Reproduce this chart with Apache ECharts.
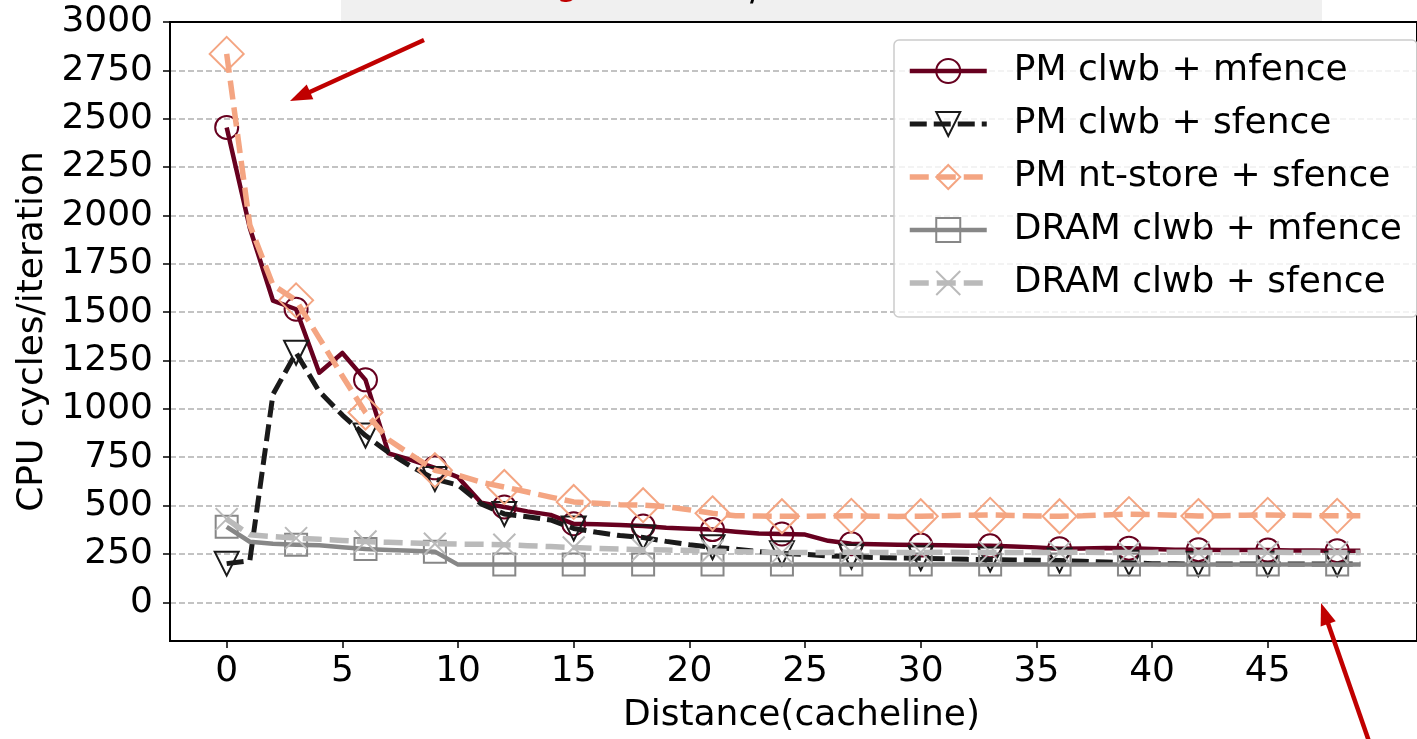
<!DOCTYPE html>
<html>
<head>
<meta charset="utf-8">
<script src="https://cdn.jsdelivr.net/npm/echarts@6/dist/echarts.min.js"></script>
<style>
html,body{margin:0;padding:0;background:#fff;}
#chart{width:1417px;height:739px;}
</style>
</head>
<body>
<div id="chart"></div>
<script>
// ---- data ----
const distance = Array.from({length: 50}, (_, i) => i);
const seriesNames = ['PM clwb + mfence', 'PM clwb + sfence', 'PM nt-store + sfence', 'DRAM clwb + mfence', 'DRAM clwb + sfence'];
const pmClwbMfence = [2455,1935,1560,1515,1187,1289,1150,770,735,695,647,515,493,470,452,406,403,400,395,385,380,376,365,356,353,350,318,303,300,298,296,295,293,292,288,284,277,278,281,280,276,272,272,270,271,270,268,268,267,267];
const pmClwbSfence = [200,215,1075,1290,1090,968,862,775,700,637,606,509,457,442,426,382,362,345,335,315,298,285,275,262,253,248,240,236,232,229,228,225,222,221,219,218,216,212,208,204,200,199,198,198,198,198,198,198,198,198];
const pmNtStoreSfence = [2835,1950,1640,1561,1366,1170,981,840,760,683,657,621,596,570,544,519,512,505,502,495,478,460,448,446,445,445,446,447,445,444,445,448,450,452,449,446,445,447,452,456,453,450,446,448,450,452,450,448,447,447];
const dramClwbMfence = [390,313,303,298,295,285,276,270,266,262,195,195,195,195,195,195,195,195,195,195,195,195,195,195,195,195,195,195,195,195,195,195,195,195,195,195,195,195,195,195,195,195,195,195,195,195,195,195,195,195];
const dramClwbSfence = [430,349,340,332,326,320,314,310,306,303,301,300,298,293,288,283,279,276,272,270,268,265,262,259,257,258,258,259,258,257,258,259,258,258,257,258,258,259,258,258,258,259,258,258,258,259,258,258,258,258];
const yTicks = [0,250,500,750,1000,1250,1500,1750,2000,2250,2500,2750,3000];
const xTicks = [0,5,10,15,20,25,30,35,40,45];

// ---- styles ----
const FONT = 'DejaVu Sans';
const FS = 36;
const styles = [
  {color:'#67001f', type:'solid', width:4.5, symbol:'circle', size:23, rotate:0},
  {color:'#1a1a1a', type:[17,7], width:5, symbol:'triangle', size:24, rotate:180},
  {color:'#f4a582', type:[19,8], width:5.5, symbol:'diamond', size:34, rotate:0},
  {color:'#878787', type:'solid', width:4.5, symbol:'rect', size:22, rotate:0},
  {color:'#bababa', type:[19,8], width:5.5, symbol:'path://M0,0L10,10M10,0L0,10', size:22, rotate:0}
];
const values = [pmClwbMfence, pmClwbSfence, pmNtStoreSfence, dramClwbMfence, dramClwbSfence];

const series = values.map((vals, k) => {
  const s = styles[k];
  return {
    name: seriesNames[k],
    type: 'line',
    data: distance.map((d, i) => [d, vals[i]]),
    showSymbol: true,
    showAllSymbol: true,
    symbol: s.symbol,
    symbolRotate: s.rotate,
    symbolSize: (v, p) => (p.dataIndex % 3 === 0 ? s.size : 0),
    lineStyle: {color: s.color, width: s.width, type: s.type, cap: 'butt', join: 'round'},
    itemStyle: {color: 'rgba(255,255,255,0)', borderColor: s.color, borderWidth: 2},
    emphasis: {disabled: true},
    animation: false,
    z: 3 + k
  };
});

// ---- arrows (annotations) ----
function arrow(x1, y1, x2, y2, color) {
  const dx = x2 - x1, dy = y2 - y1, L = Math.hypot(dx, dy);
  const ux = dx / L, uy = dy / L, hl = 22, hw = 8;
  const bx = x2 - ux * hl, by = y2 - uy * hl;
  return [
    {type:'line', shape:{x1:x1, y1:y1, x2:bx + ux*2, y2:by + uy*2}, style:{stroke:color, lineWidth:4.5}, z:100},
    {type:'polygon', shape:{points:[[x2,y2],[bx - uy*hw, by + ux*hw],[bx + uy*hw, by - ux*hw]]}, style:{fill:color}, z:100}
  ];
}

const chart = echarts.init(document.getElementById('chart'), null, {renderer:'canvas'});
chart.setOption({
  animation: false,
  backgroundColor: '#fff',
  textStyle: {fontFamily: FONT},
  grid: {left:170, top:22, width:1263, height:622, show:true, borderColor:'#000', borderWidth:2, backgroundColor:'transparent'},
  xAxis: {
    type:'value', min:-2.45, max:51.45,
    name:'Distance(cacheline)', nameLocation:'middle', nameGap:57,
    nameTextStyle:{fontSize:FS, color:'#000', fontFamily:FONT, padding:[0,0,0,16]},
    axisLine:{show:true, onZero:false, lineStyle:{color:'#000', width:2}},
    axisTick:{show:true, length:7, lineStyle:{color:'#000', width:1.5}, customValues:xTicks},
    axisLabel:{fontSize:FS, color:'#000', margin:13, fontFamily:FONT, customValues:xTicks, formatter: v => String(v)},
    splitLine:{show:false}
  },
  yAxis: {
    type:'value', min:-200, max:3000,
    name:'CPU cycles/iteration', nameLocation:'middle', nameGap:117, nameRotate:90,
    nameTextStyle:{fontSize:FS, color:'#000', fontFamily:FONT},
    axisLine:{show:true, onZero:false, lineStyle:{color:'#000', width:2}},
    axisTick:{show:true, length:7, lineStyle:{color:'#000', width:1.5}, customValues:yTicks},
    axisLabel:{fontSize:FS, color:'#000', margin:17, fontFamily:FONT, customValues:yTicks, formatter: v => String(v)},
    splitLine:{show:true, lineStyle:{color:'#b0b0b0', width:1.5, type:[6,3]}}
  },
  legend: {
    show:true, orient:'vertical', left:894, top:40,
    padding:[13,15,16,13],
    itemWidth:77, itemHeight:30, itemGap:17,
    backgroundColor:'rgba(255,255,255,0.8)', borderColor:'#cccccc', borderWidth:1.5, borderRadius:5,
    lineStyle:{width:'inherit'},
    textStyle:{fontSize:FS, color:'#000', fontFamily:FONT, lineHeight:36, padding:[0,0,0,22]},
    data: seriesNames,
    selectedMode:false
  },
  graphic: [
    {type:'rect', shape:{x:341, y:0, width:981, height:21}, style:{fill:'#f0f0f0'}, z:90},
    {type:'line', shape:{x1:170, y1:22, x2:1417, y2:22}, style:{stroke:'#000', lineWidth:2}, z:90},
    {type:'text', style:{text:'g', x:556, y:-14, font:FS + 'px "DejaVu Sans"', fill:'#c00000', verticalAlign:'middle', align:'left'}, z:91},
    {type:'text', style:{text:'/', x:750, y:-9, font:FS + 'px "DejaVu Sans"', fill:'#000', verticalAlign:'middle', align:'left'}, z:91},
    ...arrow(424, 40, 290, 101, '#c00000'),
    ...arrow(1372, 750, 1321, 603, '#c00000')
  ],
  series: series
});
</script>
</body>
</html>
